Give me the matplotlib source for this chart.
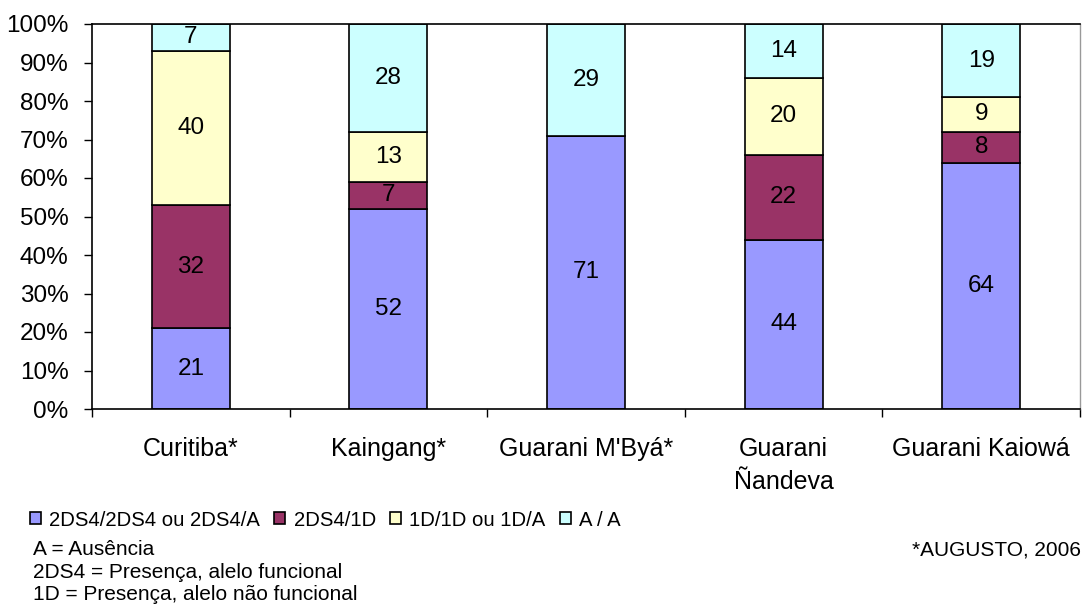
import matplotlib
matplotlib.use("Agg")
import matplotlib.pyplot as plt
import numpy as np

plt.rcParams['font.family'] = ['Liberation Sans', 'DejaVu Sans']

categories = ["Curitiba*", "Kaingang*", "Guarani M'Byá*", "Guarani\nÑandeva", "Guarani Kaiowá"]
series_names = ["2DS4/2DS4 ou 2DS4/A", "2DS4/1D", "1D/1D ou 1D/A", "A / A"]
s_2ds4 = [21, 52, 71, 44, 64]
s_2ds4_1d = [32, 7, 0, 22, 8]
s_1d = [40, 13, 0, 20, 9]
s_aa = [7, 28, 29, 14, 19]
colors = ["#9999FF", "#993366", "#FFFFCC", "#CCFFFF"]

y_ticks = np.arange(0, 101, 10)
y_ticklabels = [f"{v}%" for v in y_ticks]

notes = ["A = Ausência", "2DS4 = Presença, alelo funcional", "1D = Presença, alelo não funcional"]
source = "*AUGUSTO, 2006"

FS = 17.5
fig = plt.figure(figsize=(10.85, 6.07), dpi=100)
ax = fig.add_axes([92 / 1085, 1 - 409 / 607, (1080 - 92) / 1085, (409 - 24) / 607])

x = np.arange(len(categories))
bottom = np.zeros(len(categories))
handles = []
for name, vals, col in zip(series_names, [s_2ds4, s_2ds4_1d, s_1d, s_aa], colors):
    vals = np.array(vals, dtype=float)
    bars = ax.bar(x, vals, width=0.395, bottom=bottom, color=col,
                  edgecolor="black", linewidth=1.2, label=name)
    handles.append(bars)
    for xi, b, v in zip(x, bottom, vals):
        if v > 0:
            ax.text(xi, b + v / 2, f"{int(v)}", ha="center", va="center",
                    fontsize=FS, color="black")
    bottom += vals

ax.set_xlim(-0.5, len(categories) - 0.5)
ax.set_ylim(0, 100)
ax.set_yticks(y_ticks)
ax.set_yticklabels(y_ticklabels, fontsize=FS)
ax.tick_params(axis="y", direction="out", length=6, width=1, pad=11)

# category labels centred, ticks on the boundaries
ax.set_xticks(np.arange(-0.5, len(categories), 1.0))
ax.set_xticklabels([])
ax.set_xticks(x, minor=True)
ax.set_xticklabels(categories, minor=True, fontsize=18, va="top", linespacing=1.45)
ax.tick_params(axis="x", which="major", direction="out", length=6, width=1)
ax.tick_params(axis="x", which="minor", length=0, pad=20.5)

for s in ["left", "bottom", "top"]:
    ax.spines[s].set_color("black")
    ax.spines[s].set_linewidth(1.2)
ax.spines["right"].set_color("#999999")
ax.spines["right"].set_linewidth(1.0)

fig.legend(handles=handles, labels=series_names, loc="center left",
           bbox_to_anchor=(30 / 1085, 1 - 520 / 607), ncol=4, frameon=False,
           fontsize=14.6, handlelength=0.55, handleheight=0.55, handletextpad=0.4,
           columnspacing=0.7, borderaxespad=0, borderpad=0)

for i, t in enumerate(notes):
    fig.text(33 / 1085, 1 - (555 + 22.5 * i) / 607, t, fontsize=15,
             ha="left", va="baseline")
fig.text(1081 / 1085, 1 - 555 / 607, source, fontsize=15, ha="right", va="baseline")

fig.savefig("out.png", dpi=100)
